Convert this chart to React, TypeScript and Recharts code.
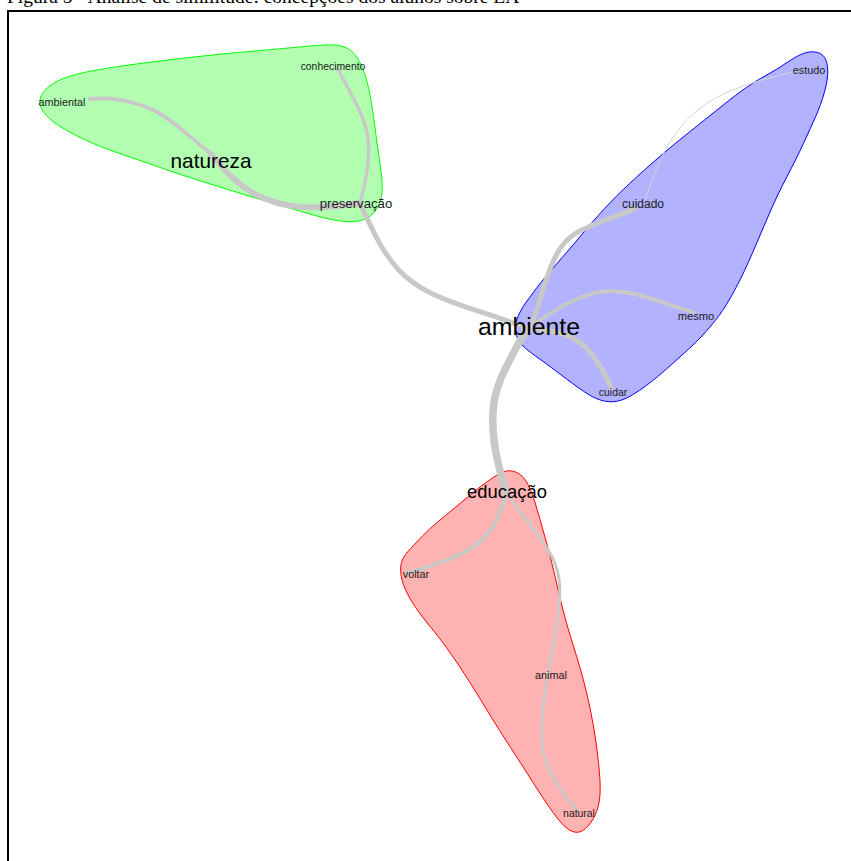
import React from "react";
import { Scatter, ScatterChart, XAxis, YAxis } from "recharts";

// layout coordinates of the similarity graph (same units as the plot, y grows downwards)
const words = ["conhecimento", "ambiental", "natureza", "preservação", "ambiente", "cuidado", "estudo", "mesmo", "cuidar", "educação", "voltar", "animal", "natural"];
const wordX = [333, 62, 211, 356, 529, 643, 809, 696, 613, 507, 416, 551, 579];
const wordY = [66, 102, 160, 203, 326, 204, 70, 316, 392, 491, 574, 675, 813];
const wordFreq = [6, 7, 32, 13, 42, 10, 7, 8, 6, 26, 7, 7, 6];

const edgeWeights = [15, 10, 12, 8, 7, 10, 8, 10, 2, 8, 6, 6];
const edgePaths: number[][][] = [
  [[527, 328], [515, 350], [500, 378], [492, 405], [493, 440], [499, 468], [506, 492]],
  [[360, 203], [370, 225], [380, 245], [398, 272], [425, 292], [465, 307], [500, 318], [527, 328]],
  [[210, 153], [222, 167], [235, 181], [255, 195], [275, 203], [300, 208], [333, 207], [360, 203]],
  [[88, 99], [110, 98], [133, 102], [155, 110], [170, 120], [185, 132], [200, 145], [210, 153]],
  [[337, 68], [353, 97], [366, 123], [370, 150], [366, 180], [360, 203]],
  [[525, 337], [535, 317], [542, 293], [550, 267], [560, 247], [573, 233], [600, 222], [637, 208]],
  [[527, 328], [545, 317], [570, 301], [595, 292], [615, 290], [645, 296], [670, 305], [695, 313]],
  [[527, 328], [545, 330], [562, 333], [578, 340], [591, 352], [601, 368], [608, 380], [612, 390]],
  [[645, 200], [655, 172], [667, 145], [685, 120], [713, 97], [753, 82], [793, 72], [808, 68]],
  [[506, 492], [500, 515], [488, 536], [467, 552], [447, 560], [428, 567], [406, 573]],
  [[506, 492], [520, 512], [538, 535], [553, 556], [561, 580], [559, 615], [553, 645], [548, 673]],
  [[548, 673], [543, 705], [540, 740], [546, 765], [560, 790], [577, 810]],
];

const greenHull = [[36, 100], [50, 83], [77, 73], [120, 66], [167, 60], [220, 54], [267, 50], [310, 46], [333, 44], [348, 47], [358, 57], [367, 78], [373, 110], [377, 145], [382, 175], [383, 197], [375, 214], [360, 223], [333, 221], [300, 211], [265, 201], [233, 191], [200, 181], [167, 170], [133, 158], [100, 147], [70, 133], [46, 118]];
const blueHull = [[813, 51], [824, 54], [828, 65], [828, 80], [821, 105], [811, 127], [796, 160], [778, 193], [761, 233], [744, 273], [731, 297], [721, 314], [701, 338], [681, 356], [661, 374], [646, 386], [633, 395], [617, 403], [600, 401], [585, 393], [560, 374], [540, 359], [521, 346], [514, 333], [517, 315], [529, 298], [544, 278], [569, 250], [592, 222], [617, 195], [642, 172], [667, 150], [692, 130], [717, 110], [742, 90], [761, 78], [776, 70], [792, 59], [803, 53]];
const redHull = [[510, 470], [520, 473], [529, 484], [536, 505], [543, 530], [550, 555], [557, 585], [564, 615], [573, 645], [581, 670], [588, 698], [594, 727], [598, 757], [601, 787], [599, 808], [591, 824], [580, 834], [569, 831], [559, 821], [544, 800], [522, 765], [499, 730], [479, 697], [459, 665], [439, 637], [422, 617], [409, 598], [401, 580], [400, 565], [404, 555], [417, 542], [429, 529], [446, 515], [462, 502], [477, 489], [491, 479], [501, 472]];

const toPts = (list: number[][]) => list.map(([x, y]) => ({ x, y }));
const nodes = words.map((word, i) => ({ x: wordX[i], y: wordY[i], word, freq: wordFreq[i] }));

const hulls = [
  { pts: greenHull, fill: "#b2ffb2", stroke: "#00ff00" },
  { pts: blueHull, fill: "#b2b2ff", stroke: "#0000ff" },
  { pts: redHull, fill: "#ffb2b2", stroke: "#ff0000" },
];

const noDot = () => <g />;

const WordLabel = (props: any) => {
  const size = 8 + props.payload.freq * 0.4;
  return (
    <text
      x={props.cx}
      y={props.cy}
      textAnchor="middle"
      dominantBaseline="central"
      fontFamily="'Liberation Sans', Arial, sans-serif"
      fontSize={size}
      fill={size > 14 ? "#000" : "#1a1a1a"}
    >
      {props.payload.word}
    </text>
  );
};

export default function App() {
  return (
    <div style={{ position: "relative", width: 851, height: 861, overflow: "hidden", background: "#fff" }}>
      <style>{"html,body{margin:0;overflow:hidden;}"}</style>
      <div
        style={{
          position: "absolute",
          left: 7,
          top: -14,
          fontFamily: "'Liberation Serif', 'Times New Roman', serif",
          fontSize: 19.5,
          lineHeight: "22px",
          whiteSpace: "nowrap",
        }}
      >
        Figura 5 - Análise de similitude: concepções dos alunos sobre EA
      </div>
      <div
        style={{
          position: "absolute",
          left: 7,
          top: 10,
          width: 850,
          height: 860,
          borderLeft: "2px solid #000",
          borderTop: "2px solid #000",
          boxSizing: "border-box",
        }}
      />
      <div style={{ position: "absolute", left: 0, top: 0 }}>
        <ScatterChart width={851} height={861} margin={{ top: 0, right: 0, bottom: 0, left: 0 }}>
          <XAxis type="number" dataKey="x" domain={[0, 851]} hide />
          <YAxis type="number" dataKey="y" domain={[0, 861]} reversed hide />
          {hulls.map((h, i) => (
            <Scatter
              key={"hull" + i}
              data={toPts(h.pts)}
              line={{ fill: h.fill, stroke: h.stroke, strokeWidth: 1 }}
              lineJointType="basisClosed"
              shape={noDot}
              isAnimationActive={false}
            />
          ))}
          {edgePaths.map((p, i) => (
            <Scatter
              key={"edge" + i}
              data={toPts(p)}
              line={{ stroke: edgeWeights[i] < 4 ? "#d4d4d4" : "#c8c8c8", strokeWidth: edgeWeights[i] * 0.5, fill: "none" }}
              lineJointType="basis"
              shape={noDot}
              isAnimationActive={false}
            />
          ))}
          <Scatter data={nodes} shape={WordLabel} isAnimationActive={false} />
        </ScatterChart>
      </div>
    </div>
  );
}
